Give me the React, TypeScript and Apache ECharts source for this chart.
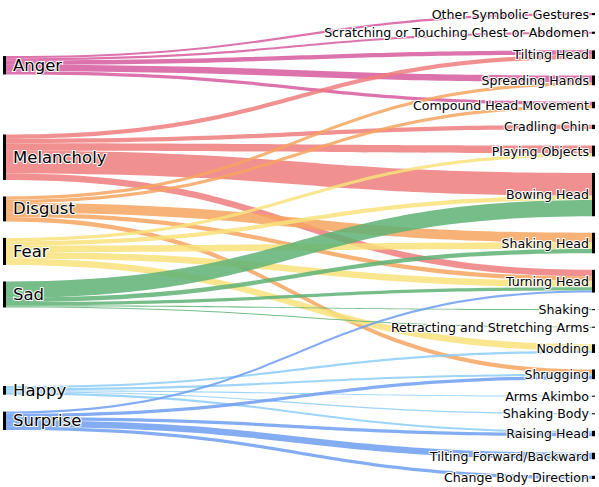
import React, { useEffect, useRef } from 'react';
import * as echarts from 'echarts';

// emotions (left column) and their colours
const emotions = ['Anger', 'Melancholy', 'Disgust', 'Fear', 'Sad', 'Happy', 'Surprise'];
const emotionColors = ['#d65a9e', '#ee7d7d', '#f6a560', '#f8e27a', '#5fb275', '#8cccf7', '#6e9ef0'];

// gestures (right column)
const gestures = [
  'Other Symbolic Gestures',
  'Scratching or Touching Chest or Abdomen',
  'Tilting Head',
  'Spreading Hands',
  'Compound Head Movement',
  'Cradling Chin',
  'Playing Objects',
  'Bowing Head',
  'Shaking Head',
  'Turning Head',
  'Shaking',
  'Retracting and Stretching Arms',
  'Nodding',
  'Shrugging',
  'Arms Akimbo',
  'Shaking Body',
  'Raising Head',
  'Tilting Forward/Backward',
  'Change Body Direction',
];

// flows per emotion: [gesture, value]
const angerLinks: [string, number][] = [
  ['Other Symbolic Gestures', 2],
  ['Scratching or Touching Chest or Abdomen', 2],
  ['Tilting Head', 4],
  ['Spreading Hands', 6],
  ['Compound Head Movement', 3],
];
const melancholyLinks: [string, number][] = [
  ['Tilting Head', 4],
  ['Cradling Chin', 4],
  ['Playing Objects', 7],
  ['Bowing Head', 21],
  ['Turning Head', 6],
];
const disgustLinks: [string, number][] = [
  ['Spreading Hands', 3],
  ['Compound Head Movement', 3],
  ['Shaking Head', 9],
  ['Turning Head', 4],
  ['Shrugging', 4],
];
const fearLinks: [string, number][] = [
  ['Playing Objects', 3],
  ['Bowing Head', 4],
  ['Shaking Head', 6],
  ['Turning Head', 6],
  ['Nodding', 6],
];
const sadLinks: [string, number][] = [
  ['Bowing Head', 15],
  ['Shaking Head', 4],
  ['Turning Head', 3],
  ['Shaking', 1],
  ['Retracting and Stretching Arms', 1],
];
const happyLinks: [string, number][] = [
  ['Nodding', 2],
  ['Shrugging', 2],
  ['Arms Akimbo', 1],
  ['Shaking Body', 1],
  ['Raising Head', 2],
];
const surpriseLinks: [string, number][] = [
  ['Turning Head', 2],
  ['Shrugging', 3],
  ['Raising Head', 3],
  ['Tilting Forward/Backward', 6],
  ['Change Body Direction', 3],
];

const linksByEmotion = [
  angerLinks,
  melancholyLinks,
  disgustLinks,
  fearLinks,
  sadLinks,
  happyLinks,
  surpriseLinks,
];

const FONT = '"Comic Sans MS", "DejaVu Sans", sans-serif';

const W = 599;
const H = 487;
const TOP = 13;
const BOTTOM = 8;
const GAP = 16.5;

// Order-preserving placement of the emotion column: each emotion sits at the
// value-weighted centre of its gestures (gesture column is stacked like the
// library does it), overlaps are then resolved without reordering.
function emotionOffsets(): number[] {
  const innerH = H - TOP - BOTTOM;
  const gestureValue = gestures.map(() => 0);
  const emotionValue = linksByEmotion.map((list) => list.reduce((s, [, v]) => s + v, 0));
  linksByEmotion.forEach((list) =>
    list.forEach(([g, v]) => {
      gestureValue[gestures.indexOf(g)] += v;
    })
  );
  const total = emotionValue.reduce((a, b) => a + b, 0);
  const ky = Math.min(
    (innerH - (gestures.length - 1) * GAP) / total,
    (innerH - (emotions.length - 1) * GAP) / total
  );
  const gestureCenter: number[] = [];
  let y = 0;
  gestureValue.forEach((v) => {
    gestureCenter.push(y + (v * ky) / 2);
    y += v * ky + GAP;
  });

  const heights = emotionValue.map((v) => v * ky);
  const wanted = linksByEmotion.map((list, i) => {
    const c = list.reduce((s, [g, v]) => s + gestureCenter[gestures.indexOf(g)] * v, 0) / emotionValue[i];
    return c - heights[i] / 2;
  });

  // pool adjacent blocks that overlap (weighted by value)
  type Block = { first: number; last: number; w: number; swd: number; len: number };
  const blocks: Block[] = [];
  wanted.forEach((d, i) => {
    blocks.push({ first: i, last: i, w: emotionValue[i], swd: emotionValue[i] * d, len: heights[i] });
    while (blocks.length > 1) {
      const cur = blocks[blocks.length - 1];
      const prev = blocks[blocks.length - 2];
      const prevTop = prev.swd / prev.w;
      const curTop = cur.swd / cur.w;
      if (prevTop + prev.len + GAP <= curTop) break;
      blocks.pop();
      prev.swd += cur.swd - cur.w * (prev.len + GAP);
      prev.w += cur.w;
      prev.len += GAP + cur.len;
      prev.last = cur.last;
    }
  });

  const tops: number[] = [];
  blocks.forEach((b) => {
    let t = Math.max(0, Math.min(innerH - b.len, b.swd / b.w));
    for (let i = b.first; i <= b.last; i++) {
      tops[i] = t;
      t += heights[i] + GAP;
    }
  });
  return tops.map((t) => t / innerH);
}

const App: React.FC = () => {
  const chartRef = useRef<HTMLDivElement>(null);

  useEffect(() => {
    if (!chartRef.current) return;
    const chart = echarts.init(chartRef.current, undefined, { renderer: 'svg' });

    const localY = emotionOffsets();

    const nodes = [
      ...emotions.map((name, i) => ({
        name,
        localY: localY[i],
        label: { position: 'right', distance: 7, fontSize: 16.5 },
      })),
      ...gestures.map((name) => ({
        name,
        label: { position: 'left', distance: 3, fontSize: 12.6 },
      })),
    ];

    const links: any[] = [];
    linksByEmotion.forEach((list, i) => {
      list.forEach(([target, value]) => {
        links.push({
          source: emotions[i],
          target,
          value,
          lineStyle: { color: emotionColors[i] },
        });
      });
    });

    const option = {
      animation: false,
      series: [
        {
          type: 'sankey',
          left: 3,
          right: 4,
          top: TOP,
          bottom: BOTTOM,
          nodeWidth: 3,
          nodeGap: GAP,
          nodeAlign: 'justify',
          layoutIterations: 0,
          draggable: false,
          emphasis: { disabled: true },
          data: nodes,
          links,
          itemStyle: { color: '#000', borderWidth: 0 },
          lineStyle: { opacity: 0.85, curveness: 0.5 },
          label: {
            color: '#000',
            fontFamily: FONT,
            textBorderColor: '#fff',
            textBorderWidth: 2,
          },
        },
      ],
    } as any;

    chart.setOption(option);
    return () => chart.dispose();
  }, []);

  return (
    <div
      ref={chartRef}
      style={{ position: 'fixed', left: 0, top: 0, width: W, height: H, background: '#fff' }}
    />
  );
};

export default App;
